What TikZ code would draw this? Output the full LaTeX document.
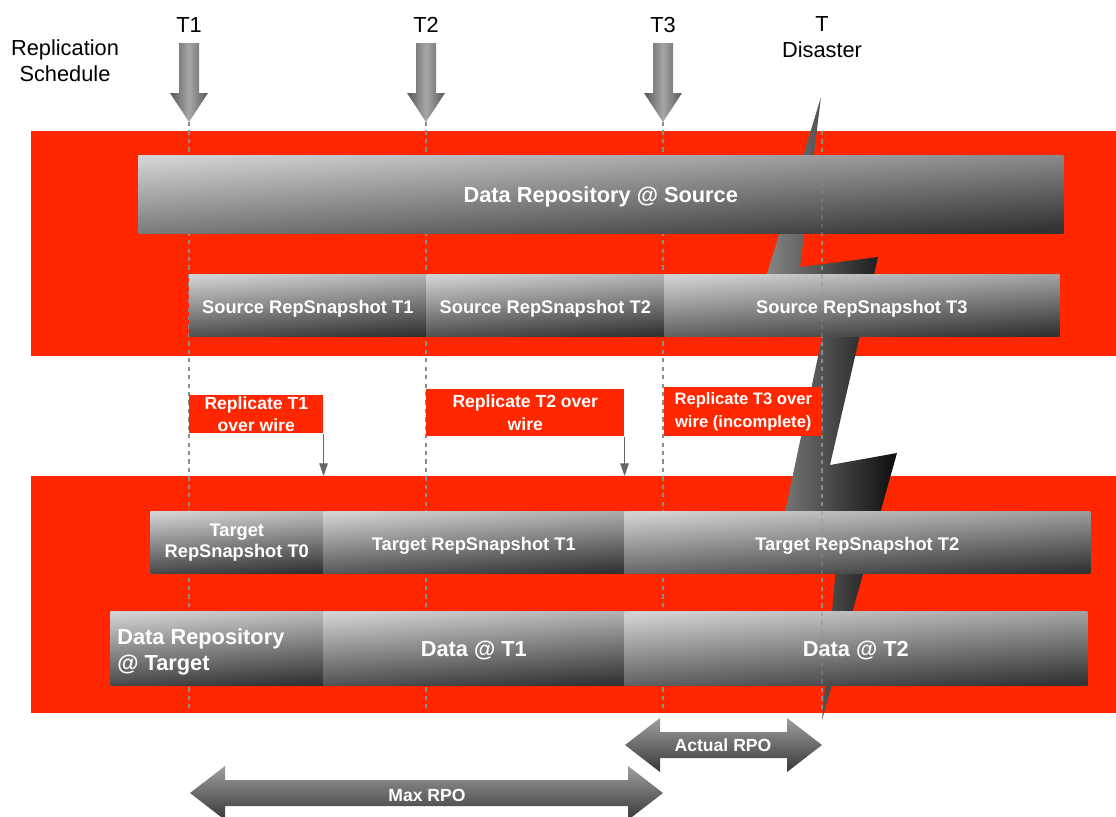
\documentclass[tikz,border=0pt]{standalone}
\usepackage{fontspec}
\setmainfont{Liberation Sans}
\usetikzlibrary{arrows.meta}
\definecolor{keyred}{RGB}{255,38,0}

% double headed RPO arrow: left tip, right tip, centre line
\newcommand{\rpoarrow}[3]{%
  \shade[rpo] (#1,#3) -- ({#1+35},{#3-27}) -- ({#1+35},{#3-13}) -- ({#2-35},{#3-13})
    -- ({#2-35},{#3-27}) -- (#2,#3) -- ({#2-35},{#3+27}) -- ({#2-35},{#3+13})
    -- ({#1+35},{#3+13}) -- ({#1+35},{#3+27}) -- cycle;}

\begin{document}
\begin{tikzpicture}[x=0.025cm,y=-0.025cm,
    cell/.style n args={4}{anchor=north west,at={(#1,#2)},
      minimum width={(#3-#1)*0.025cm},minimum height={(#4-#2)*0.025cm}},
    band/.style={fill=keyred,inner sep=0pt},
    bartext/.style={text=white,font=\bfseries\fontsize{13}{15}\selectfont},
    shadebar/.style={top color=black!18,bottom color=black!80,shading angle=4,
      inner sep=0pt,bartext},
    bar/.style={shadebar,text height=1.1em,text depth=0pt},
    bigbar/.style={bar,font=\bfseries\fontsize{15.5}{18.5}\selectfont},
    repbox/.style={fill=keyred,inner sep=0pt,text=white,align=center,
      font=\bfseries\fontsize{12.5}{16}\selectfont},
    tick/.style={draw=black!45,dashed,line width=0.8pt},
    wire/.style={draw=black!60,line width=0.9pt,-{Triangle[length=9pt,width=6pt]}},
    sched/.style={left color=black!65,right color=black!65,middle color=black!35},
    bolt/.style={left color=black!45,right color=black!95},
    rpo/.style={top color=black!38,bottom color=black!78},
    rpotext/.style={text=white,inner sep=0pt,font=\bfseries\fontsize{12.5}{15}\selectfont},
    lbl/.style={font=\fontsize{15.5}{18.5}\selectfont,align=center,inner sep=0pt}]
  \useasboundingbox (0,0) rectangle (1116,816);

  % red bands
  \node[band,cell={31}{131}{1116}{356}] (band1) {};
  \node[band,cell={31}{476}{1116}{713}] (band2) {};

  % lightning
  \shade[bolt] (821,97) -- (800,267) -- (878,257) -- (830,465) -- (897,453) -- (822,720)
    -- (838,545) -- (778,545) -- (830,300) -- (759,300) -- cycle;

  % schedule
  \node[lbl] (sched) at (65,61) {Replication\\Schedule};
  \foreach \x/\t in {189/1,426/2,663/3}{
    \shade[sched] ({\x-10},43) -- ({\x+10},43) -- ({\x+10},93) -- ({\x+19},93) -- (\x,122)
      -- ({\x-19},93) -- ({\x-10},93) -- cycle;
    \node[lbl] (T\t) at (\x,25) {T\t};
    \coordinate (top\t) at (\x,122);
  }
  \node[lbl] (Tdis) at (822,37) {T\\Disaster};
  \coordinate (topD) at (822,131);
  \coordinate (bot) at (0,710);
  \foreach \t in {1,2,3,D}
    \draw[tick] (top\t) -- (top\t |- bot);

  % source side
  \node[bigbar,cell={138}{155}{1063}{233}] (dsrc) {Data Repository @ Source};
  \node[bar,cell={189}{274}{426}{336}] (ss1) {Source RepSnapshot T1};
  \node[bar,cell={426}{274}{664}{336}] (ss2) {Source RepSnapshot T2};
  \node[bar,cell={664}{274}{1059}{336}] (ss3) {Source RepSnapshot T3};

  % replication
  \node[repbox,cell={189}{395}{323}{433}] (rep1) {Replicate T1\\over wire};
  \node[repbox,cell={426}{389}{624}{436}] (rep2) {Replicate T2 over\\wire};
  \node[repbox,cell={664}{387}{822}{436},font=\bfseries\fontsize{11.8}{16}\selectfont] (rep3)
    {Replicate T3 over\\wire (incomplete)};
  \draw[wire] (rep1.south east) -- (rep1.south east |- band2.north);
  \draw[wire] (rep2.south east) -- (rep2.south east |- band2.north);

  % target side
  \node[shadebar,align=center,cell={150}{511}{323}{573}] (ts0) {Target\\RepSnapshot T0};
  \node[bar,cell={323}{511}{624}{573}] (ts1) {Target RepSnapshot T1};
  \node[bar,cell={624}{511}{1090}{573}] (ts2) {Target RepSnapshot T2};
  \node[bigbar,cell={110}{611}{323}{685}] (dtgt) {};
  \node[bartext,font=\bfseries\fontsize{15.5}{18.5}\selectfont,align=left,anchor=west,inner sep=0pt]
    (dtgtlbl) at ([xshift=0.175cm,yshift=-0.1cm]dtgt.west) {Data Repository\\@ Target};
  \node[bigbar,cell={323}{611}{624}{685}] (dt1) {Data @ T1};
  \node[bigbar,cell={624}{611}{1087}{685}] (dt2) {Data @ T2};

  % disaster line shows faintly over the bars
  \draw[tick,opacity=0.4] (topD) -- (topD |- bot);

  % RPO
  \rpoarrow{625}{822}{745}
  \node[rpotext] (actual) at (723,745) {Actual RPO};
  \rpoarrow{190}{663}{793}
  \node[rpotext] (maxrpo) at (427,795) {Max RPO};
\end{tikzpicture}
\end{document}
